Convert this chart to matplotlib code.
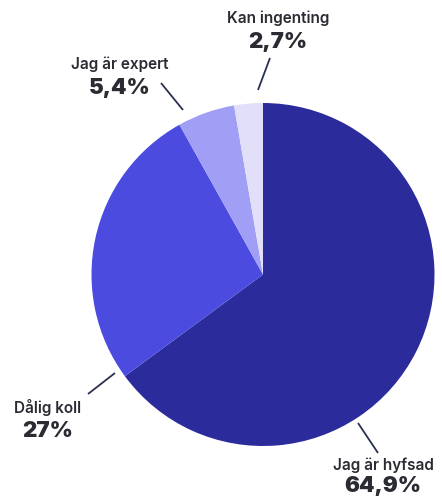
import matplotlib
matplotlib.use("Agg")
import matplotlib.pyplot as plt

categories = ["Jag är hyfsad", "Dålig koll", "Jag är expert", "Kan ingenting"]
values = [64.9, 27.0, 5.4, 2.7]
value_labels = ["64,9%", "27%", "5,4%", "2,7%"]
colors = ["#2B2B9B", "#4B4BE0", "#A09FF5", "#E1E0F8"]

W, H = 442, 498
fig = plt.figure(figsize=(W / 100, H / 100), dpi=100)
ax = fig.add_axes([0, 0, 1, 1])

def py(y):
    return H - y

ax.pie(values, colors=colors, startangle=90, counterclock=False,
       center=(263, py(274.5)), radius=171.5, frame=True,
       wedgeprops=dict(linewidth=0))
ax.set_xlim(0, W)
ax.set_ylim(0, H)
ax.set_aspect("equal")
ax.axis("off")

text_color = "#2A2B33"
line_color = "#2A3050"
layout = {
    "Jag är hyfsad": dict(x=383, ny=465, py_=486, line=((358, 423), (378, 453))),
    "Dålig koll": dict(x=48, ny=407, py_=431, line=((115, 373), (88, 394))),
    "Jag är expert": dict(x=120, ny=64, py_=88, line=((183, 110), (161, 83))),
    "Kan ingenting": dict(x=278, ny=18, py_=42, line=((258, 90), (270, 58))),
}
for cat, lab in zip(categories, value_labels):
    L = layout[cat]
    ax.text(L["x"], py(L["ny"]), cat, ha="center", va="center",
            fontsize=11, fontweight="semibold", family="Inter", color=text_color)
    ax.text(L["x"], py(L["py_"]), lab, ha="center", va="center",
            fontsize=16, fontweight="black", family="Inter", color=text_color)
    (x0, y0), (x1, y1) = L["line"]
    ax.plot([x0, x1], [py(y0), py(y1)], color=line_color, lw=1.3,
            solid_capstyle="butt")

fig.savefig("out.png", dpi=100, facecolor="white")
